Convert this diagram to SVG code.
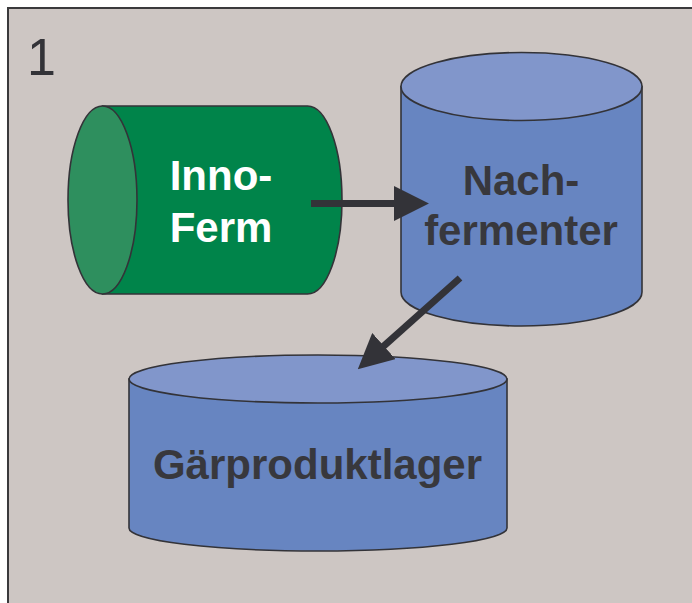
<svg xmlns="http://www.w3.org/2000/svg" width="692" height="603" viewBox="0 0 692 603">
<style>
.edge{stroke:#333338;stroke-width:1.6}
.lbl{font-family:"Liberation Sans",Arial,sans-serif;font-weight:bold;font-size:42px;text-anchor:middle}
.conn{stroke:#333338;stroke-width:7;fill:none}
</style>
<defs>
<marker id="ah" viewBox="0 0 10 10" refX="0.3" refY="5" markerUnits="userSpaceOnUse" markerWidth="35" markerHeight="35" orient="auto">
<path d="M0,0 L10,5 L0,10 Z" fill="#333338"/>
</marker>
</defs>
<rect x="0" y="0" width="692" height="603" fill="#ffffff"/>
<rect x="8" y="8" width="700" height="620" fill="#cdc6c3" stroke="#3a3a3c" stroke-width="2"/>
<text x="27" y="75" font-family="Liberation Sans,Arial,sans-serif" font-size="52" fill="#333338">1</text>
<g id="innoferm">
<path class="edge" d="M102.5,106 H307.5 A34.5,94 0 0 1 307.5,294 H102.5 Z" fill="#00844a"/>
<ellipse class="edge" cx="102.5" cy="200" rx="34.5" ry="94" fill="#2e8f5e"/>
<text class="lbl" x="221" y="190" fill="#ffffff">Inno-</text>
<text class="lbl" x="221" y="242" fill="#ffffff">Ferm</text>
</g>
<g id="nachfermenter">
<path class="edge" d="M401,86.5 V292 A120.5,34 0 0 0 642,292 V86.5 Z" fill="#6785c1"/>
<ellipse class="edge" cx="521.5" cy="86.5" rx="120.5" ry="34" fill="#8196cb"/>
<text class="lbl" x="521" y="195" fill="#38383d">Nach-</text>
<text class="lbl" x="521" y="245" fill="#38383d">fermenter</text>
</g>
<g id="gaerproduktlager">
<path class="edge" d="M129,379 V528 A189,23 0 0 0 507,528 V379 Z" fill="#6785c1"/>
<ellipse class="edge" cx="318" cy="379" rx="189" ry="24" fill="#8196cb"/>
<text class="lbl" x="317.5" y="479" fill="#38383d">Gärproduktlager</text>
</g>
<g id="connectors">
<line class="conn" x1="311" y1="203.5" x2="395" y2="203.5" marker-end="url(#ah)"/>
<line class="conn" x1="460" y1="278" x2="383.1" y2="346.7" marker-end="url(#ah)"/>
</g>
</svg>
